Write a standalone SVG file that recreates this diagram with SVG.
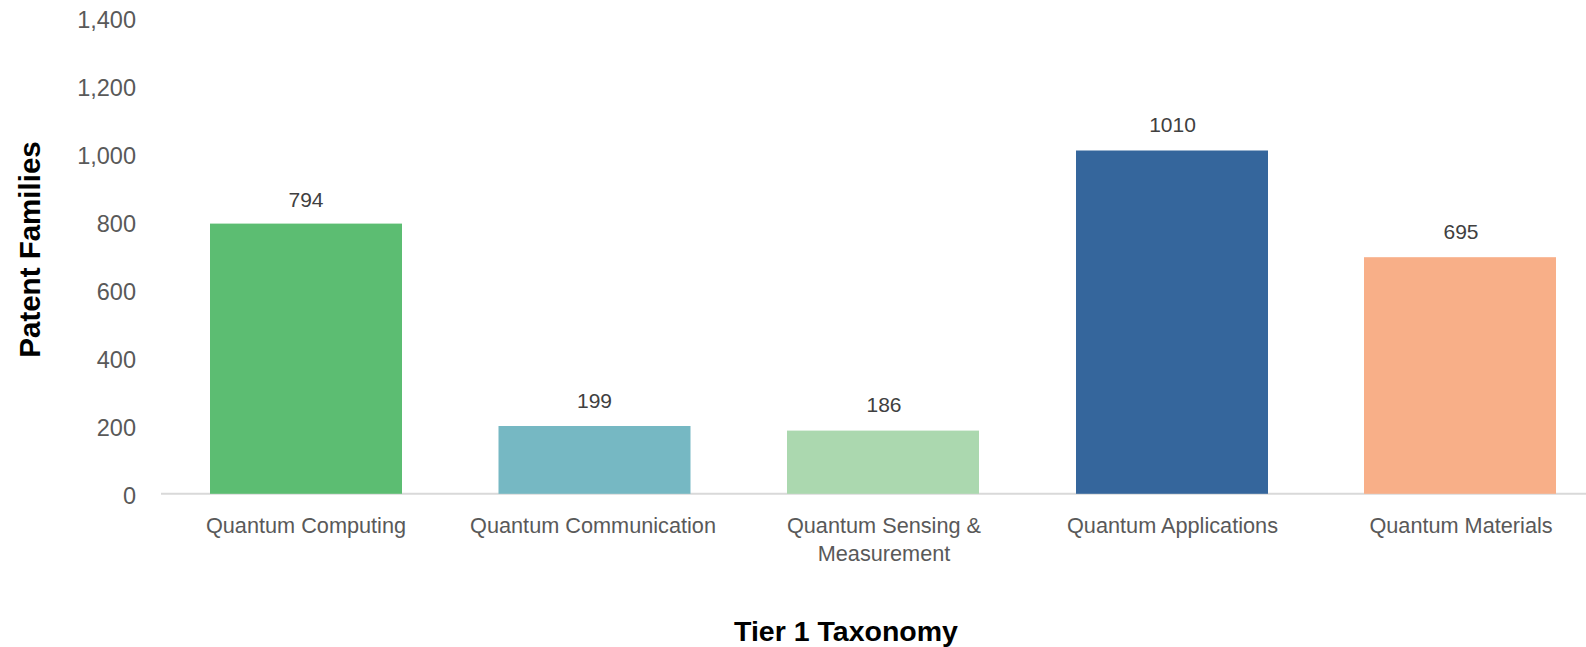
<svg xmlns="http://www.w3.org/2000/svg" width="1586" height="647" viewBox="0 0 1586 647">
<style>
.tick{font-family:"Liberation Sans",Arial,sans-serif;font-size:23.5px;fill:#595959;text-anchor:end}
.cat{font-family:"Liberation Sans",Arial,sans-serif;font-size:21.7px;fill:#595959;text-anchor:middle}
.val{font-family:"Liberation Sans",Arial,sans-serif;font-size:21px;fill:#404040;text-anchor:middle}
.title{font-family:"Liberation Sans",Arial,sans-serif;font-weight:bold;fill:#000;text-anchor:middle}
</style>
<rect width="1586" height="647" fill="#fff"/>
<g id="y-axis">
<text class="tick" x="136" y="504">0</text>
<text class="tick" x="136" y="436">200</text>
<text class="tick" x="136" y="368">400</text>
<text class="tick" x="136" y="300">600</text>
<text class="tick" x="136" y="232">800</text>
<text class="tick" x="136" y="164">1,000</text>
<text class="tick" x="136" y="96">1,200</text>
<text class="tick" x="136" y="27.5">1,400</text>
<text class="title" font-size="29.5" transform="translate(40,249.5) rotate(-90)">Patent Families</text>
</g>
<g id="connectors">
<line x1="161" y1="493.8" x2="1586" y2="493.8" stroke="#D9D9D9" stroke-width="2"/>
</g>
<g id="bar-computing">
<rect x="210" y="223.6" width="192" height="270.2" fill="#5CBD72"/>
<text class="val" x="306" y="206.5">794</text>
<text class="cat" x="306" y="532.7">Quantum Computing</text>
</g>
<g id="bar-communication">
<rect x="498.5" y="426" width="192" height="67.8" fill="#76B8C3"/>
<text class="val" x="594.5" y="408.3">199</text>
<text class="cat" x="593" y="532.7">Quantum Communication</text>
</g>
<g id="bar-sensing">
<rect x="787" y="430.6" width="192" height="63.2" fill="#ABD8AF"/>
<text class="val" x="884" y="412.3">186</text>
<text class="cat" x="884" y="532.5">Quantum Sensing &amp;</text>
<text class="cat" x="884" y="561">Measurement</text>
</g>
<g id="bar-applications">
<rect x="1076" y="150.5" width="192" height="343.3" fill="#35669C"/>
<text class="val" x="1172.5" y="132.3">1010</text>
<text class="cat" x="1172.5" y="532.7">Quantum Applications</text>
</g>
<g id="bar-materials">
<rect x="1364" y="257.2" width="192" height="236.6" fill="#F8AF88"/>
<text class="val" x="1461" y="239.3">695</text>
<text class="cat" x="1461" y="532.7">Quantum Materials</text>
</g>
<g id="x-title">
<text class="title" font-size="28.5" x="846" y="641">Tier 1 Taxonomy</text>
</g>
</svg>
